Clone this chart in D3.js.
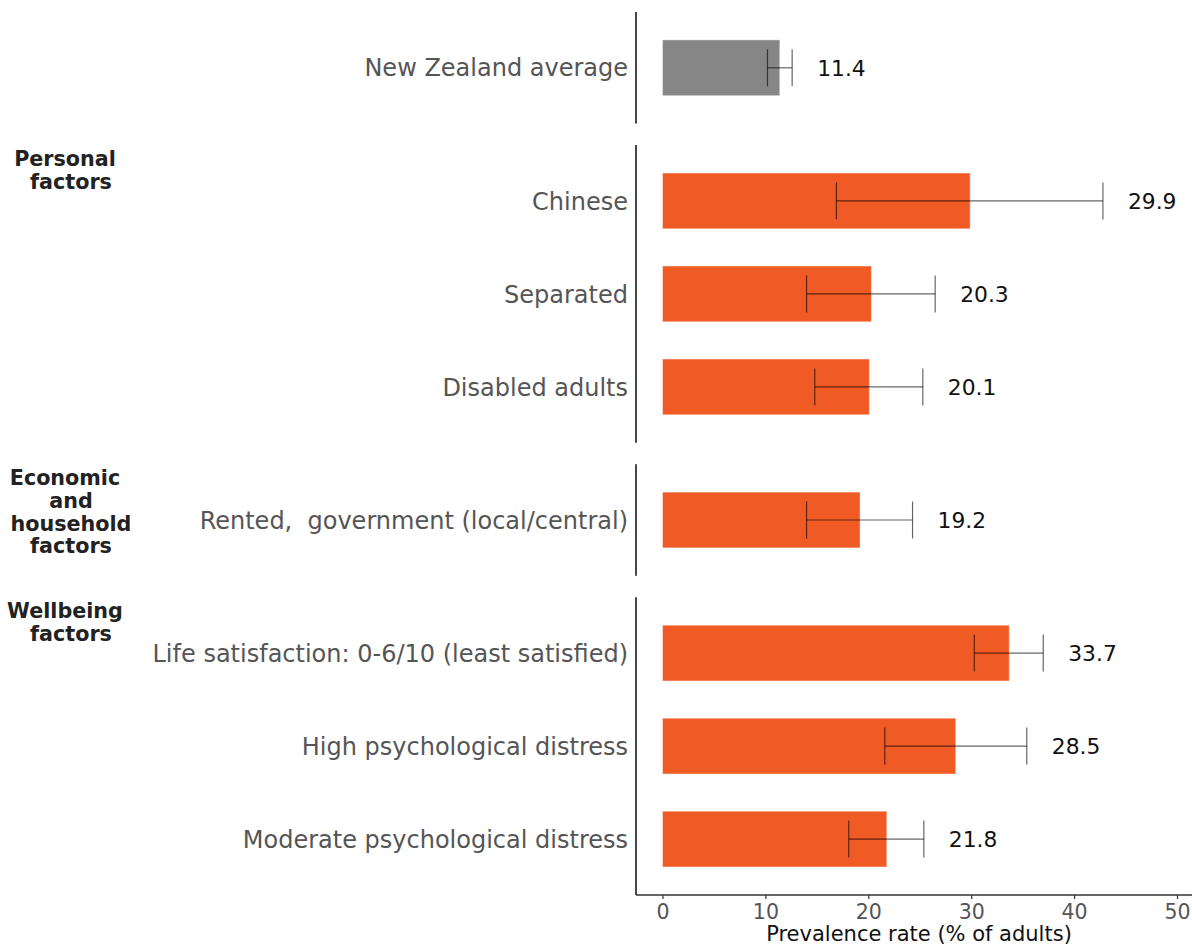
<!DOCTYPE html>
<html>
<head>
<meta charset="utf-8">
<script src="https://cdn.jsdelivr.net/npm/d3@7"></script>
<style>
  html, body { margin: 0; padding: 0; background: #fff; }
  svg { display: block; font-family: "DejaVu Sans", sans-serif; }
</style>
</head>
<body>
<svg id="chart" width="1192" height="945"></svg>
<script>
// Prevalence rates with 95% confidence intervals, grouped into panels
const groupNames = ["", "Personal\nfactors", "Economic\nand\nhousehold\nfactors", "Wellbeing\nfactors"];
const categories = [
  ["New Zealand average"],
  ["Chinese", "Separated", "Disabled adults"],
  ["Rented,  government (local/central)"],
  ["Life satisfaction: 0-6/10 (least satisfied)", "High psychological distress", "Moderate psychological distress"]
];
const values = [[11.4], [29.9, 20.3, 20.1], [19.2], [33.7, 28.5, 21.8]];
const ciLow  = [[10.2], [16.9, 14.0, 14.8], [14.0], [30.3, 21.6, 18.1]];
const ciHigh = [[12.6], [42.8, 26.5, 25.3], [24.3], [37.0, 35.4, 25.4]];
const xTicks = [0, 10, 20, 30, 40, 50];
const xTitle = "Prevalence rate (% of adults)";

const svg = d3.select("#chart");

const axisX = 636;
const axisY = 895;
const x = d3.scaleLinear().domain([0, 50]).range([662.5, 1177]);

const step = 93;
const gap = 21.5;
let panelTop = 12;

categories.forEach((cats, gi) => {
  const h = step * (cats.length + 0.2);
  const y = d3.scaleBand()
    .domain(cats)
    .range([panelTop, panelTop + h])
    .paddingInner(0.4)
    .paddingOuter(0.3);

  const g = svg.append("g");

  // panel spine
  g.append("line")
    .attr("x1", axisX).attr("x2", axisX)
    .attr("y1", panelTop).attr("y2", gi === categories.length - 1 ? axisY : panelTop + h)
    .attr("stroke", "#1a1a1a").attr("stroke-width", 1.6);

  const rows = cats.map((c, i) => ({
    cat: c, v: values[gi][i], lo: ciLow[gi][i], hi: ciHigh[gi][i]
  }));

  // bars
  g.selectAll("rect.bar").data(rows).join("rect")
    .attr("class", "bar")
    .attr("x", x(0))
    .attr("y", d => y(d.cat))
    .attr("width", d => x(d.v) - x(0))
    .attr("height", y.bandwidth())
    .attr("fill", gi === 0 ? "#868686" : "#F05A24")
    .attr("stroke", "#fff").attr("stroke-opacity", 0.45).attr("stroke-width", 1);

  // error bars
  const eb = g.selectAll("g.err").data(rows).join("g")
    .attr("class", "err")
    .attr("stroke", "#000").attr("stroke-opacity", 0.6).attr("stroke-width", 1.2);
  const cap = 18.5;
  eb.append("line")
    .attr("x1", d => x(d.lo)).attr("x2", d => x(d.hi))
    .attr("y1", d => y(d.cat) + y.bandwidth() / 2)
    .attr("y2", d => y(d.cat) + y.bandwidth() / 2);
  eb.append("line")
    .attr("x1", d => x(d.lo)).attr("x2", d => x(d.lo))
    .attr("y1", d => y(d.cat) + y.bandwidth() / 2 - cap)
    .attr("y2", d => y(d.cat) + y.bandwidth() / 2 + cap);
  eb.append("line")
    .attr("x1", d => x(d.hi)).attr("x2", d => x(d.hi))
    .attr("y1", d => y(d.cat) + y.bandwidth() / 2 - cap)
    .attr("y2", d => y(d.cat) + y.bandwidth() / 2 + cap);

  // value labels
  g.selectAll("text.val").data(rows).join("text")
    .attr("class", "val")
    .attr("x", d => x(Math.max(d.v, d.hi)) + 25)
    .attr("y", d => y(d.cat) + y.bandwidth() / 2)
    .attr("dy", "0.36em")
    .attr("font-size", 21.8)
    .attr("fill", "#111")
    .text(d => d.v.toFixed(1));

  // category labels
  g.selectAll("text.cat").data(rows).join("text")
    .attr("class", "cat")
    .attr("x", 628)
    .attr("y", d => y(d.cat) + y.bandwidth() / 2)
    .attr("dy", "0.36em")
    .attr("text-anchor", "end")
    .attr("font-size", 24)
    .attr("fill", "#555")
    .style("white-space", "pre")
    .text(d => d.cat);

  // group title
  if (groupNames[gi]) {
    const lines = groupNames[gi].split("\n");
    const t = g.append("text")
      .attr("font-size", 20.7)
      .attr("font-weight", "bold")
      .attr("fill", "#222")
      .attr("text-anchor", "middle");
    lines.forEach((ln, li) => {
      t.append("tspan")
        .attr("x", li === 0 ? 65 : 71)
        .attr("y", panelTop + 21 + li * 22.7)
        .text(ln);
    });
  }

  panelTop += h + gap;
});

// x axis
const xAxis = d3.axisBottom(x)
  .tickValues(xTicks)
  .tickSize(4)
  .tickPadding(5)
  .tickSizeOuter(0);
const ax = svg.append("g")
  .attr("transform", `translate(0,${axisY})`)
  .call(xAxis);
ax.select(".domain").remove();
ax.append("line")
  .attr("x1", axisX).attr("x2", 1192)
  .attr("stroke", "#333").attr("stroke-width", 1.6);
ax.selectAll(".tick line").attr("stroke", "#333").attr("stroke-width", 1.2);
ax.selectAll(".tick text")
  .attr("font-size", 20.5)
  .attr("font-family", "DejaVu Sans, sans-serif")
  .attr("fill", "#555");

svg.append("text")
  .attr("x", 919)
  .attr("y", 941)
  .attr("text-anchor", "middle")
  .attr("font-size", 21)
  .attr("fill", "#111")
  .text(xTitle);
</script>
</body>
</html>
